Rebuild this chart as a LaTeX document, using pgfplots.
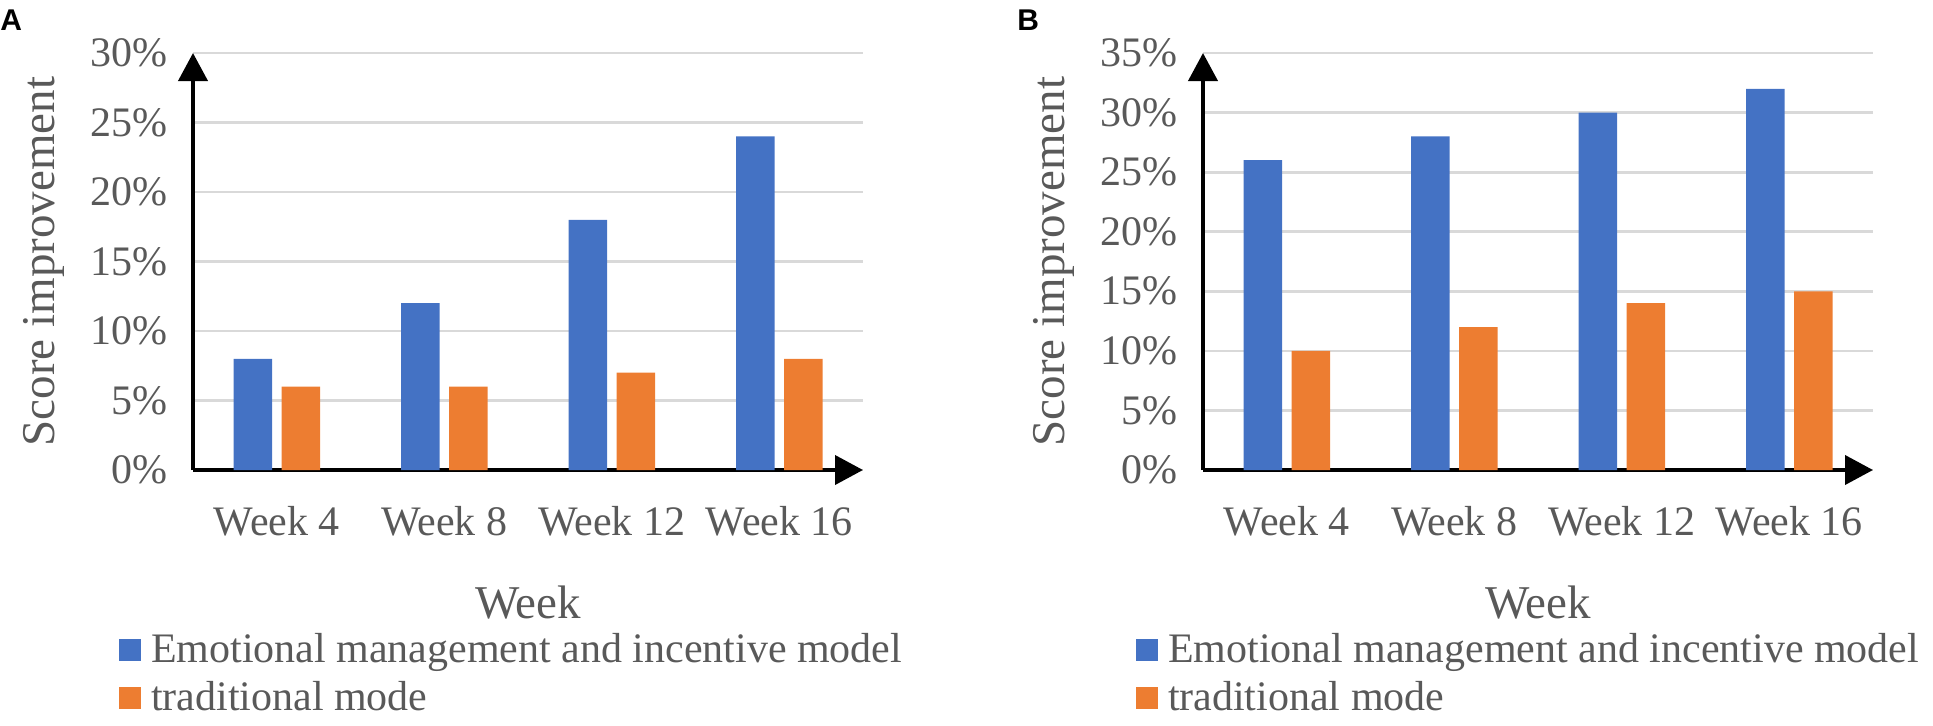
\documentclass[border=0pt]{standalone}
\usepackage{fontspec}
\setmainfont{Liberation Serif}
\newfontfamily\panelfont{Liberation Sans}
\usepackage{pgfplots}
\pgfplotsset{compat=1.18}
\usetikzlibrary{arrows.meta}
\definecolor{eblue}{HTML}{4472C4}
\definecolor{eorange}{HTML}{ED7D31}
\definecolor{txtgray}{HTML}{595959}
\definecolor{gridgray}{HTML}{D9D9D9}
\pgfplotsset{
  sqlegend/.style={legend image code/.code={\fill[##1,draw=none] (0pt,-4.5pt) rectangle (11pt,6.5pt); \path (16pt,0pt);}},
  myaxis/.style={
    width=335pt, height=208.5pt, scale only axis,
    anchor=south west,
    xmin=-0.5, xmax=3.5, ymin=0,
    xtick={0,1,2,3}, xticklabels={Week 4,Week 8,Week 12,Week 16},
    major tick length=0pt,
    axis lines=left,
    axis line style={line width=2pt, -{Triangle[width=14.5pt,length=14pt]}},
    ymajorgrids, grid style={line width=1.35pt, gridgray},
    ybar, bar width=19.25pt,
    ticklabel style={font=\fontsize{21pt}{25pt}\selectfont, text=txtgray},
    xticklabel style={anchor=base, inner sep=0pt, yshift=-32.5pt},
    yticklabel style={anchor=east, inner sep=0pt, xshift=-12.5pt},
    label style={font=\fontsize{23.5pt}{28pt}\selectfont, text=txtgray},
    xlabel={Week},
    xlabel style={at={(axis description cs:0.5,-0.355)}, anchor=base, inner sep=0pt},
    ylabel={Score improvement},
    ylabel style={at={(axis description cs:-0.206,0.5)}, anchor=base, inner sep=0pt},
    legend style={draw=none, fill=none, anchor=north west, inner sep=0pt, outer sep=0pt,
      font=\fontsize{21pt}{24pt}\selectfont, text=txtgray,
      nodes={inner sep=0pt, text height=17pt, text depth=7pt}},
    legend cell align=left,
  }
}
\begin{document}
\begin{tikzpicture}
\path (0,0) rectangle (966.5pt,362.5pt);
\node[anchor=base west, inner sep=0pt, font=\panelfont\bfseries\fontsize{15pt}{18pt}\selectfont] at (0pt,347.5pt) {A};
\node[anchor=base west, inner sep=0pt, font=\panelfont\bfseries\fontsize{15pt}{18pt}\selectfont] at (508.5pt,347.5pt) {B};
\begin{axis}[myaxis, at={(96.5pt,127.5pt)}, ymax=30, ytick={0,5,10,15,20,25,30},
  yticklabels={0\%,5\%,10\%,15\%,20\%,25\%,30\%},
  legend style={at={(axis description cs:-0.1104,-0.3789)}}]
\addplot[fill=eblue, draw=none, bar shift=-12pt, sqlegend] coordinates {(0,8) (1,12) (2,18) (3,24)};
\addplot[fill=eorange, draw=none, bar shift=12pt, sqlegend] coordinates {(0,6) (1,6) (2,7) (3,8)};
\legend{Emotional management and incentive model, traditional mode}
\end{axis}
\begin{axis}[myaxis, at={(601.5pt,127.5pt)}, ymax=35, ytick={0,5,10,15,20,25,30,35},
  yticklabels={0\%,5\%,10\%,15\%,20\%,25\%,30\%,35\%},
  legend style={at={(axis description cs:-0.1,-0.3789)}}]
\addplot[fill=eblue, draw=none, bar shift=-12pt, sqlegend] coordinates {(0,26) (1,28) (2,30) (3,32)};
\addplot[fill=eorange, draw=none, bar shift=12pt, sqlegend] coordinates {(0,10) (1,12) (2,14) (3,15)};
\legend{Emotional management and incentive model, traditional mode}
\end{axis}
\end{tikzpicture}
\end{document}
